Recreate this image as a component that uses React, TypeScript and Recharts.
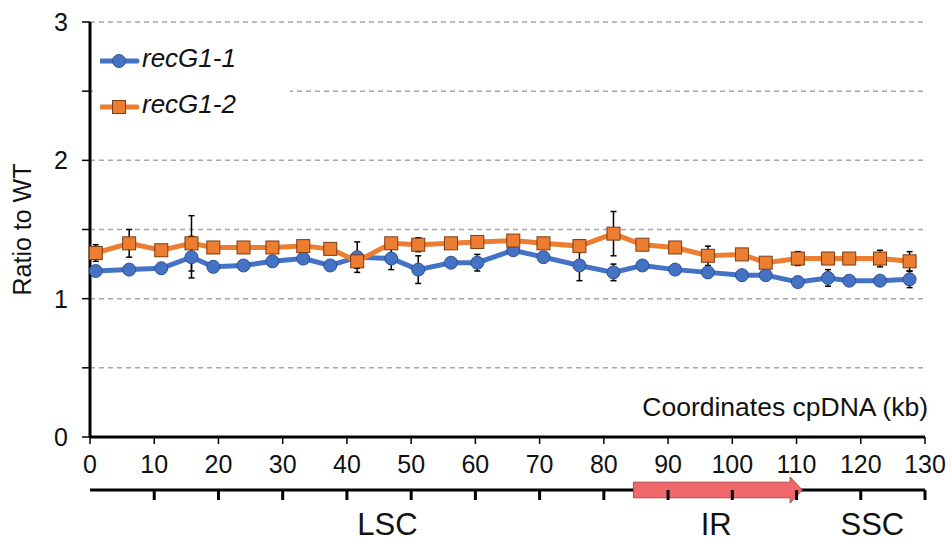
import {
  LineChart,
  Line,
  XAxis,
  YAxis,
  CartesianGrid,
  ErrorBar,
  Legend,
  ReferenceArea,
} from 'recharts';

const FONT = '"Liberation Sans", Arial, sans-serif';

// positions along the plastid genome (kb)
const positionsKb = [
  0.9, 6.1, 11.1, 15.8, 19.2, 23.9, 28.4, 33.2, 37.4, 41.6, 46.9, 51.1, 56.2, 60.3,
  65.9, 70.6, 76.2, 81.5, 86.0, 91.1, 96.2, 101.5, 105.2, 110.2, 114.9, 118.2, 123.0, 127.6,
];

const recG1_1 = [
  1.2, 1.21, 1.22, 1.3, 1.23, 1.24, 1.27, 1.29, 1.24, 1.3, 1.29, 1.21, 1.26, 1.26,
  1.35, 1.3, 1.24, 1.19, 1.24, 1.21, 1.19, 1.17, 1.17, 1.12, 1.15, 1.13, 1.13, 1.14,
];
const recG1_1Err = [
  0.02, 0.02, 0.03, 0.15, 0.01, 0.01, 0.01, 0.03, 0.01, 0.11, 0.08, 0.1, 0.01, 0.06,
  0.01, 0.01, 0.11, 0.06, 0.01, 0.01, 0.02, 0.01, 0.01, 0.01, 0.06, 0.01, 0.01, 0.06,
];

const recG1_2 = [
  1.33, 1.4, 1.35, 1.4, 1.37, 1.37, 1.37, 1.38, 1.36, 1.27, 1.4, 1.39, 1.4, 1.41,
  1.42, 1.4, 1.38, 1.47, 1.39, 1.37, 1.31, 1.32, 1.26, 1.29, 1.29, 1.29, 1.29, 1.27,
];
const recG1_2Err = [
  0.06, 0.1, 0.02, 0.2, 0.01, 0.03, 0.01, 0.02, 0.01, 0.05, 0.01, 0.05, 0.01, 0.02,
  0.02, 0.01, 0.03, 0.16, 0.01, 0.01, 0.07, 0.01, 0.02, 0.05, 0.04, 0.02, 0.06, 0.07,
];

const xTicks = [0, 10, 20, 30, 40, 50, 60, 70, 80, 90, 100, 110, 120, 130];
const yTicks = [0, 0.5, 1, 1.5, 2, 2.5, 3];
const bandTicks = [10, 20, 30, 40, 50, 60, 70, 80, 90, 100, 110, 120, 130];
const regionNames = ['LSC', 'IR', 'SSC'];
const regionCenters = [46.3, 97.5, 121.8];
const irStart = 84.6;
const irEnd = 110.9;

const rows = positionsKb.map((kb, i) => ({
  kb,
  'recG1-1': recG1_1[i],
  err1: recG1_1Err[i],
  'recG1-2': recG1_2[i],
  err2: recG1_2Err[i],
}));

const BLUE = '#4472C4';
const ORANGE = '#ED7D31';

const SquareDot = (props: any) => {
  const { cx, cy, index } = props;
  if (cx == null || cy == null) return null;
  return (
    <rect
      key={`sq-${index}`}
      x={cx - 6.5}
      y={cy - 6.5}
      width={13}
      height={13}
      fill={ORANGE}
      stroke="#7a3d14"
      strokeWidth={1}
    />
  );
};

const BandTick = (props: any) => {
  const { x, y, payload } = props;
  const idx = regionCenters.indexOf(payload.value);
  if (idx >= 0) {
    return (
      <text x={x} y={y + 45} textAnchor="middle" fontSize={31} fontFamily={FONT} fill="#111">
        {regionNames[idx]}
      </text>
    );
  }
  return <line x1={x} x2={x} y1={y} y2={y + 10} stroke="#000" strokeWidth={3} />;
};

const IrArrow = (props: any) => {
  const { x, y, width, height } = props;
  const head = height * 0.47;
  const bodyTop = y + height * 0.2;
  const bodyBottom = y + height * 0.8;
  const pts = [
    [x, bodyTop],
    [x + width - head, bodyTop],
    [x + width - head, y],
    [x + width, y + height / 2],
    [x + width - head, y + height],
    [x + width - head, bodyBottom],
    [x, bodyBottom],
  ]
    .map((p) => p.join(','))
    .join(' ');
  return <polygon points={pts} fill="#F0686B" stroke="#b24a4c" strokeWidth={1} />;
};

const YTitle = (props: any) => {
  const { viewBox } = props;
  const cx = viewBox.x + 22;
  const cy = viewBox.y + viewBox.height / 2;
  return (
    <text
      x={cx}
      y={cy}
      dy="0.355em"
      transform={`rotate(-90 ${cx} ${cy})`}
      textAnchor="middle"
      fontSize={25}
      fontFamily={FONT}
      fill="#111"
    >
      Ratio to WT
    </text>
  );
};

const XTitle = (props: any) => {
  const { viewBox } = props;
  return (
    <text
      x={viewBox.x + viewBox.width + 3}
      y={viewBox.y - 21}
      textAnchor="end"
      fontSize={26.5}
      fontFamily={FONT}
      fill="#111"
    >
      Coordinates cpDNA (kb)
    </text>
  );
};

const LegendBox = (props: any) => {
  const { payload = [] } = props;
  return (
    <div style={{ background: '#fff', paddingTop: 8, width: 197, height: 92 }}>
      {payload.map((item: any) => (
        <div key={item.value} style={{ display: 'flex', alignItems: 'center', height: 46 }}>
          <svg width={42} height={20} style={{ marginLeft: 7 }}>
            <line x1={0} x2={37} y1={10} y2={10} stroke={item.color} strokeWidth={5} strokeLinecap="round" />
            {item.type === 'square' ? (
              <rect x={12.5} y={3.5} width={13} height={13} fill={ORANGE} stroke="#7a3d14" strokeWidth={1} />
            ) : (
              <circle cx={19} cy={10} r={6.5} fill={BLUE} stroke="#2F528F" strokeWidth={1} />
            )}
          </svg>
          <span
            style={{
              fontFamily: FONT,
              fontStyle: 'italic',
              fontSize: 26,
              color: '#111',
              position: 'relative',
              top: -3,
            }}
          >
            {item.value}
          </span>
        </div>
      ))}
    </div>
  );
};

export default function App() {
  return (
    <div style={{ position: 'absolute', left: 0, top: 0 }}>
      <LineChart width={952} height={543} data={rows} margin={{ top: 22, right: 27, left: 0, bottom: 0 }}>
        <CartesianGrid vertical={false} stroke="#a6a6a6" strokeDasharray="5 4" strokeWidth={1.5} />
        <XAxis
          dataKey="kb"
          type="number"
          domain={[0, 130]}
          ticks={xTicks}
          interval={0}
          height={53}
          axisLine={{ stroke: '#000', strokeWidth: 3 }}
          tickLine={{ stroke: '#000', strokeWidth: 1.5 }}
          tickSize={7}
          tickMargin={11}
          tick={{ fontSize: 25, fontFamily: FONT, fill: '#111' }}
          label={XTitle}
        />
        <XAxis
          xAxisId="band"
          dataKey="kb"
          type="number"
          domain={[0, 130]}
          ticks={[...bandTicks, ...regionCenters]}
          interval={0}
          height={53}
          axisLine={{ stroke: '#000', strokeWidth: 3 }}
          tickLine={false}
          tickSize={0}
          tickMargin={0}
          tick={BandTick}
        />
        <YAxis
          type="number"
          domain={[0, 3]}
          ticks={yTicks}
          interval={0}
          width={90}
          axisLine={{ stroke: '#000', strokeWidth: 3 }}
          tickLine={{ stroke: '#000', strokeWidth: 1.5 }}
          tickSize={8}
          tickMargin={14}
          tick={{ fontSize: 25, fontFamily: FONT, fill: '#111' }}
          tickFormatter={(v: number) => (Number.isInteger(v) ? String(v) : '')}
          label={YTitle}
        />
        <ReferenceArea
          xAxisId="band"
          x1={irStart}
          x2={irEnd}
          y1={-0.477}
          y2={-0.289}
          ifOverflow="visible"
          shape={IrArrow}
          zIndex={1000}
        />
        <Legend
          layout="vertical"
          align="center"
          verticalAlign="middle"
          content={LegendBox}
          wrapperStyle={{ left: 93, top: 30, width: 197 }}
        />
        <Line
          dataKey="recG1-1"
          stroke={BLUE}
          strokeWidth={5}
          legendType="circle"
          dot={{ r: 6.5, fill: BLUE, stroke: '#2F528F', strokeWidth: 1 }}
          isAnimationActive={false}
        >
          <ErrorBar dataKey="err1" width={3} stroke="#000" strokeWidth={1.5} direction="y" />
        </Line>
        <Line
          dataKey="recG1-2"
          stroke={ORANGE}
          strokeWidth={5}
          legendType="square"
          dot={SquareDot}
          isAnimationActive={false}
        >
          <ErrorBar dataKey="err2" width={3} stroke="#000" strokeWidth={1.5} direction="y" />
        </Line>
      </LineChart>
    </div>
  );
}
